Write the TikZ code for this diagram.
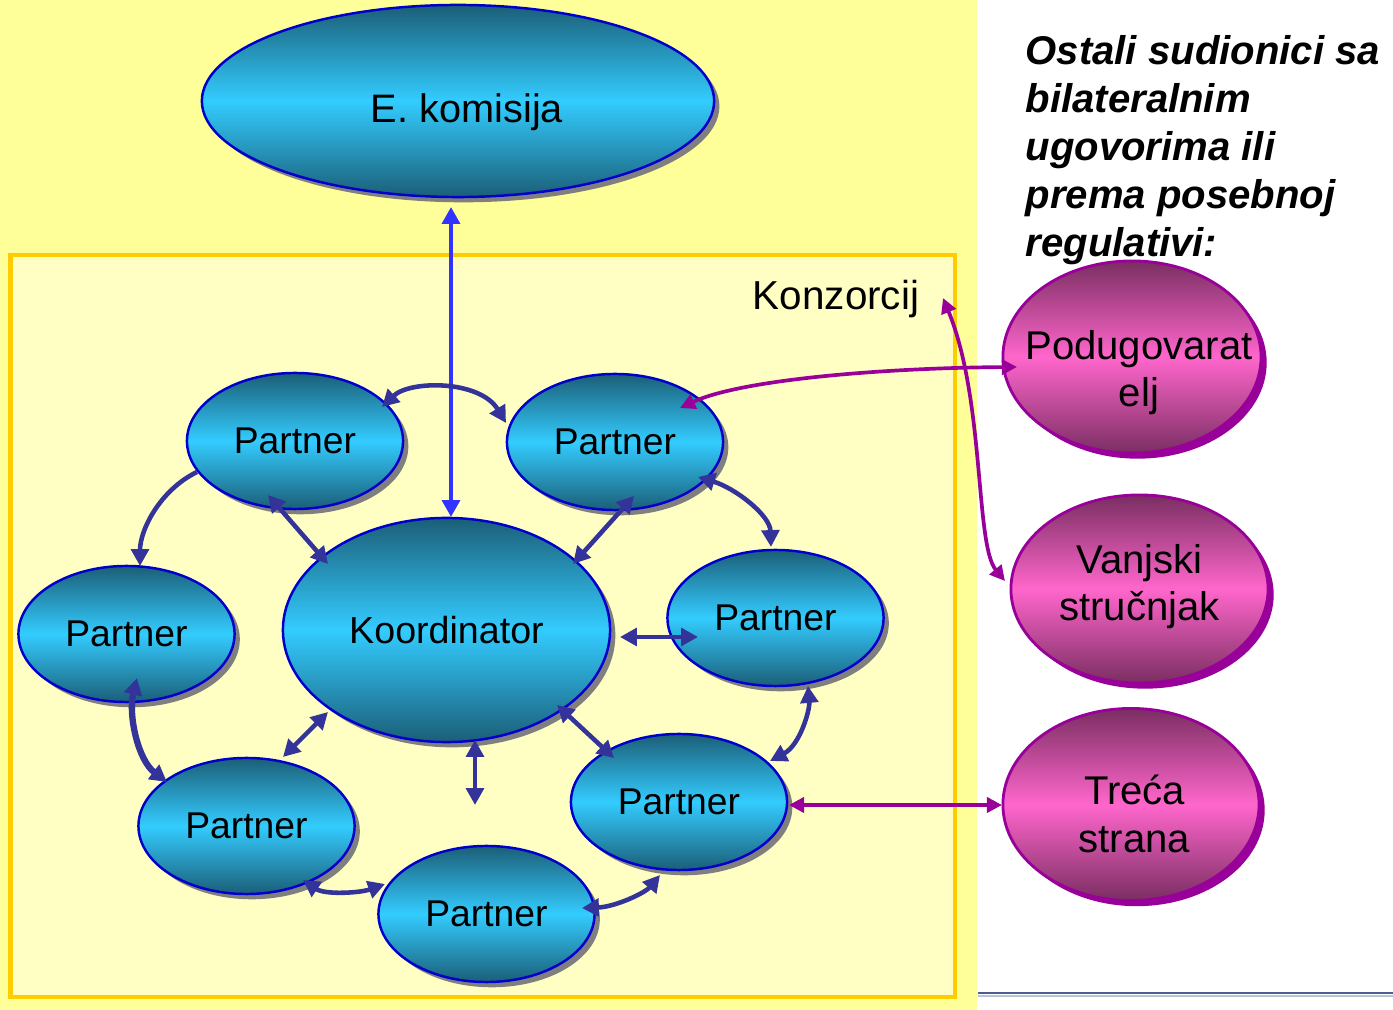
\documentclass[tikz,border=0pt]{standalone}
\usepackage{fontspec}
\setmainfont{Liberation Sans}
\usetikzlibrary{shapes.geometric,arrows.meta,shadows}
\definecolor{bgyellow}{HTML}{FFFF99}
\definecolor{boxfill}{HTML}{FFFFC4}
\definecolor{boxline}{HTML}{FFCC00}
\definecolor{tealdark}{HTML}{1B5E77}
\definecolor{cyanmid}{HTML}{33CCFF}
\definecolor{ellline}{HTML}{0000CC}
\definecolor{shadowgray}{HTML}{7F7F7F}
\definecolor{pinkdark}{HTML}{7A2E62}
\definecolor{pinkmid}{HTML}{FF66CC}
\definecolor{purpleline}{HTML}{990099}
\definecolor{navyarrow}{HTML}{333399}
\definecolor{bluearrow}{HTML}{3333FF}
\definecolor{ruleblue}{HTML}{4A5F8E}
\definecolor{rulelight}{HTML}{B9C3DA}
\newcommand{\pinktext}[3]{\raisebox{#1}[0pt][0pt]{\makebox[0pt]{\hspace*{#2}\begin{tabular}[t]{@{}c@{}}#3\end{tabular}}}}
\begin{document}
\begin{tikzpicture}[x=0.01cm, y=-0.01cm,
  >={Triangle[length=4.8pt,width=5pt]},
  blueell/.style={ellipse, draw=ellline, line width=0.7pt,
    top color=tealdark, bottom color=tealdark, middle color=cyanmid,
    inner sep=0pt, minimum width=2.16cm, minimum height=1.36cm,
    general shadow={fill=shadowgray, shadow xshift=1.5pt, shadow yshift=-1.5pt},
    font=\fontsize{10.6}{12.7}\selectfont},
  pinkell/.style={ellipse, draw=purpleline, line width=0.8pt,
    top color=pinkdark, bottom color=pinkdark, middle color=pinkmid,
    inner sep=0pt,
    general shadow={fill=purpleline, shadow xshift=1.6pt, shadow yshift=-1.6pt},
    font=\fontsize{11.4}{13.6}\selectfont},
  conn/.style={draw=navyarrow, line width=1.3pt},
  connthick/.style={draw=navyarrow, line width=1.8pt},
  ekconn/.style={draw=bluearrow, line width=1.4pt},
  purpconn/.style={draw=purpleline, line width=1.05pt,
    >={Triangle[length=4.3pt,width=4.3pt]}},
  plain/.style={inner sep=0pt, font=\fontsize{11.5}{13.6}\selectfont}
]
% background
\fill[white] (0,0) rectangle (1393,1010);
\useasboundingbox (0,0) rectangle (1393,1010);
\fill[bgyellow] (0,0) rectangle (977,1010);
\draw[boxline, line width=0.045cm, fill=boxfill] (10.5,255) rectangle (955,997);
\draw[ruleblue, line width=0.022cm] (978,993) -- (1393,993);
\draw[rulelight, line width=0.012cm] (978,996) -- (1393,996);

% nodes
\node[blueell, minimum width=5.12cm, minimum height=1.92cm, text height=12.5pt, text depth=0pt,
  font=\fontsize{11.3}{13.6}\selectfont] (ek) at (458,101) {\hspace*{0.18cm}E. komisija};
\node[blueell] (tl) at (295,441) {Partner};
\node[blueell] (tr) at (615,442) {Partner};
\node[blueell, minimum width=3.27cm, minimum height=2.24cm, font=\fontsize{10.7}{12.8}\selectfont] (k) at (446.5,630) {Koordinator};
\node[blueell] (l) at (126.5,634) {Partner};
\node[blueell] (r) at (775.5,618) {Partner};
\node[blueell] (bl) at (246.5,826) {Partner};
\node[blueell] (b) at (486.5,914) {Partner};
\node[blueell] (br) at (679,802) {Partner};

\node[pinkell, minimum width=2.58cm, minimum height=1.92cm] (pod) at (1132,357)
  {\pinktext{-0.6pt}{0.14cm}{Podugovarat\\elj}};
\node[pinkell, minimum width=2.57cm, minimum height=1.88cm] (van) at (1139.5,589)
  {\pinktext{4.5pt}{0cm}{Vanjski\\stručnjak}};
\node[pinkell, minimum width=2.56cm, minimum height=1.92cm] (tre) at (1131,804.5)
  {\pinktext{0pt}{0.07cm}{Treća\\strana}};

\node[plain] (konz) at (836,299) {Konzorcij};
\node[plain, anchor=north west, align=left, font=\bfseries\itshape\fontsize{11.4}{13.6}\selectfont] (ostali) at (1025,35)
  {Ostali sudionici sa\\bilateralnim\\ugovorima ili\\prema posebnoj\\regulativi:};

\coordinate (kfree) at (475,805);

% connectors
\draw[ekconn,<->] ([shift={(-7,106)}]ek.center) -- ([shift={(4.5,-113)}]k.center);
\draw[conn,<->] ([shift={(87,-34)}]tl.center) .. controls (410,380) and (480,380) .. ([shift={(-109,-19)}]tr.center);
\draw[conn,<->] ([shift={(-27,54)}]tl.center) -- ([shift={(-118.5,-66)}]k.center);
\draw[conn,->] ([shift={(-98,31)}]tl.center) .. controls (160,490) and (140,530) .. ([shift={(13.5,-68)}]l.center);
\draw[connthick,<->] ([shift={(10.5,44)}]l.center) .. controls (128,715) and (138,760) .. ([shift={(-79.5,-44)}]bl.center);
\draw[conn,<->] ([shift={(36.5,-69)}]bl.center) -- ([shift={(-118.5,82)}]k.center);
\draw[conn,<->] ([shift={(28.5,110)}]k.center) -- (kfree);
\draw[conn,<->] ([shift={(56.5,54)}]bl.center) .. controls (325,895) and (360,893) .. ([shift={(-101.5,-30)}]b.center);
\draw[conn,<->] ([shift={(95.5,-6)}]b.center) .. controls (615,907) and (645,893) .. ([shift={(-19,73)}]br.center);
\draw[conn,<->] ([shift={(-65,-44)}]br.center) -- ([shift={(110.5,75)}]k.center);
\draw[conn,<->] ([shift={(91,-41)}]br.center) .. controls (800,745) and (810,710) .. ([shift={(32.5,68)}]r.center);
\draw[conn,<->] ([shift={(-77.5,19)}]r.center) -- ([shift={(173.5,7)}]k.center);
\draw[conn,<->] ([shift={(19,54)}]tr.center) -- ([shift={(126.5,-66)}]k.center);
\draw[conn,<->] ([shift={(83,35)}]tr.center) .. controls (735,488) and (770,515) .. ([shift={(-4.5,-71)}]r.center);

\draw[purpconn,<->] ([shift={(-115,10)}]pod.center) .. controls (880,368) and (740,380) .. ([shift={(65,-34)}]tr.center);
\draw[purpconn,<->] ([shift={(107,-1)}]konz.center) .. controls (985,400) and (975,545) .. ([shift={(-134.5,-8)}]van.center);
\draw[purpconn,<->] ([shift={(110,3)}]br.center) -- ([shift={(-129,0.5)}]tre.center);
\end{tikzpicture}
\end{document}
